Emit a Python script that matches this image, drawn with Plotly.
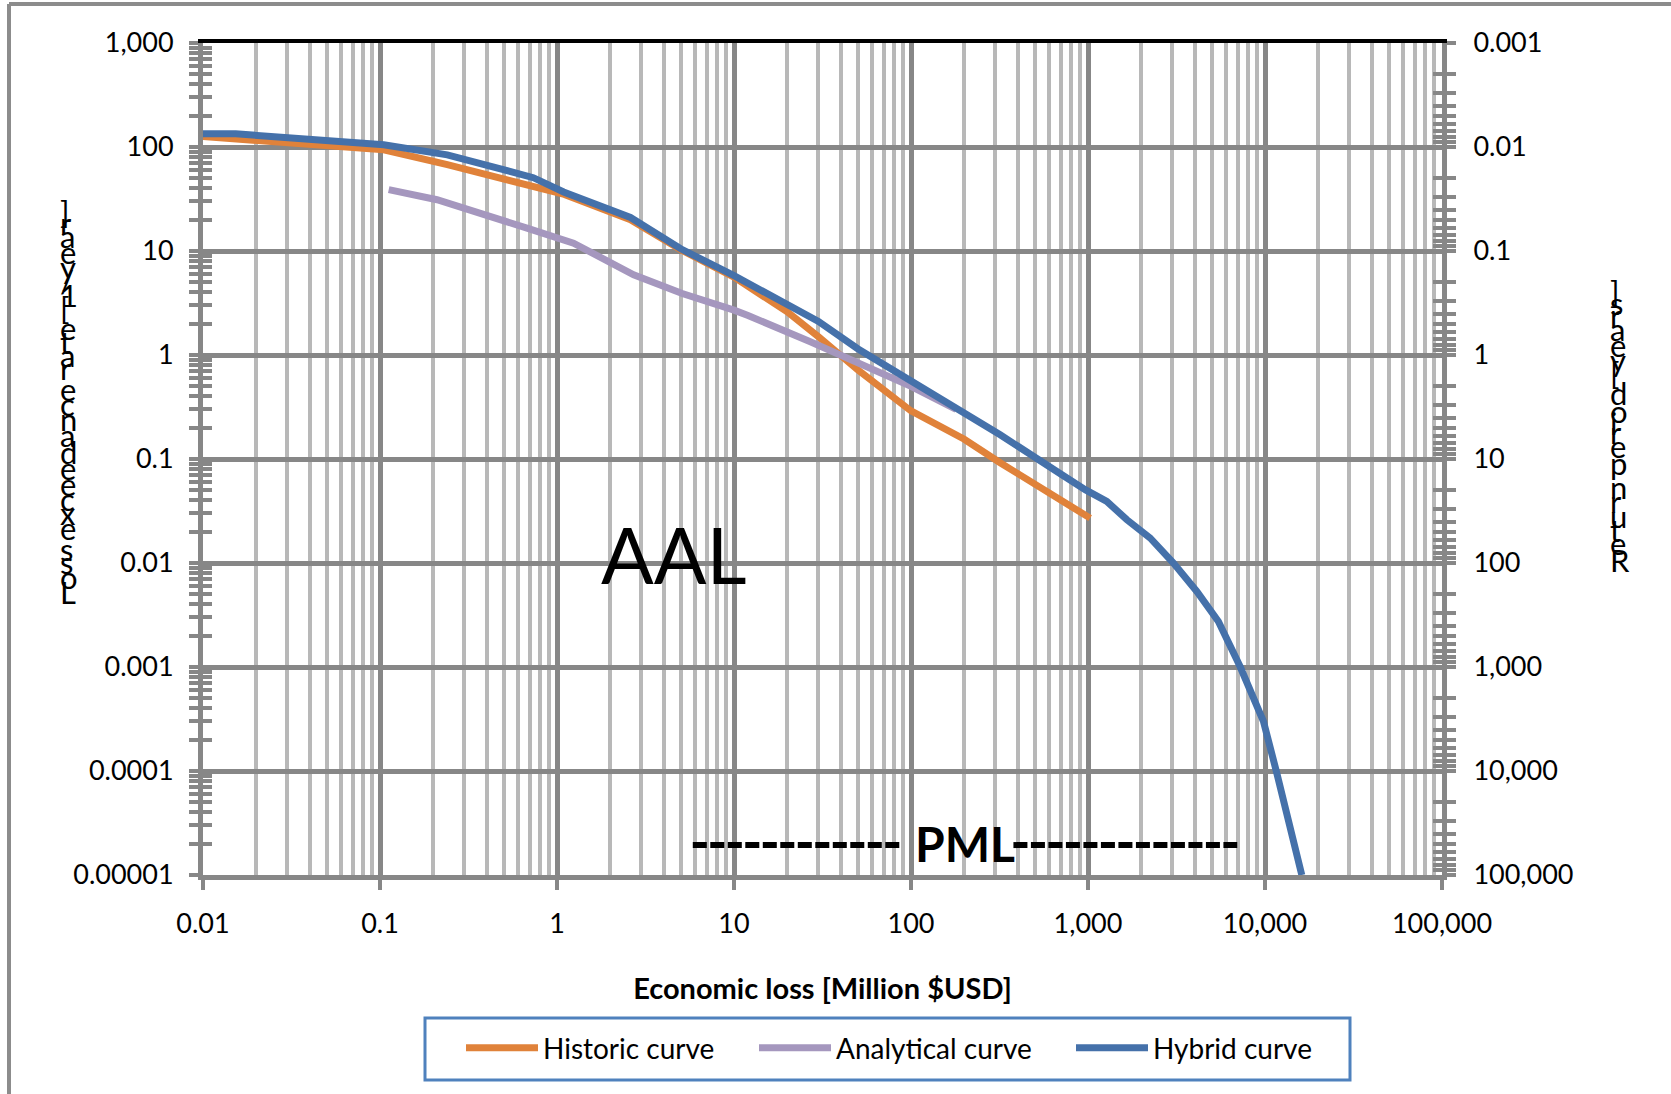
import plotly.graph_objects as go

# ---------------- data ----------------
HIST_X = [0.01, 0.105, 0.24, 0.735, 1.1, 2.6, 5, 10, 20, 30, 50, 100, 200, 319, 500, 1028]
HIST_Y = [126, 94, 67.6, 40.6, 35, 20, 10.3, 5.6, 2.6, 1.5, 0.72, 0.29, 0.155, 0.092, 0.058, 0.027]

ANAL_X = [0.112, 0.21, 0.677, 1.24, 2.71, 5.1, 10, 12, 27, 50, 100, 180]
ANAL_Y = [38.9, 31.1, 16.6, 11.9, 5.9, 3.9, 2.7, 2.4, 1.34, 0.85, 0.5, 0.3]

HYB_X = [0.01, 0.0153, 0.105, 0.24, 0.735, 1.09, 2.6, 3.4, 5, 10, 20, 30, 50, 100, 200, 319,
         712, 964, 1277, 1656, 2244, 3039, 4120, 5455, 7230, 9800, 11650, 13870, 16140]
HYB_Y = [134, 134, 105, 84, 50.7, 37, 21, 16, 10.5, 5.8, 3.1, 2.1, 1.15, 0.56, 0.27, 0.171,
         0.0706, 0.0507, 0.0391, 0.0261, 0.0174, 0.01, 0.00533, 0.00274, 0.00101, 0.0003,
         9.6e-5, 2.73e-5, 1e-5]

SERIES_NAMES = ["Historic curve", "Analytical curve", "Hybrid curve"]

X_TICKS = [0.01, 0.1, 1, 10, 100, 1000, 10000, 100000]
X_TEXT = ["0.01", "0.1", "1", "10", "100", "1,000", "10,000", "100,000"]
RATE_TICKS = [1e-5, 1e-4, 1e-3, 0.01, 0.1, 1, 10, 100, 1000]
RATE_TEXT = ["0.00001", "0.0001", "0.001", "0.01", "0.1", "1", "10", "100", "1,000"]
RP_TICKS = [1e-3, 0.01, 0.1, 1, 10, 100, 1000, 1e4, 1e5]
RP_TEXT = ["0.001", "0.01", "0.1", "1", "10", "100", "1,000", "10,000", "100,000"]
MINOR_DIGITS = [2, 3, 4, 5, 6, 7, 8, 9]

PML_LEFT_X = [5.85, 89.6]
PML_RIGHT_X = [379, 6970]
PML_Y = 1.94e-5

X_TITLE = "Economic loss [Million $USD]"
Y_TITLE = "Loss exceedance rate [1/year]"
Y2_TITLE = "Return period [years]"

# ---------------- styling ----------------
W, H = 1671, 1094
ML, MR, MT, MB = 203, 229, 43, 219
PW, PH = W - ML - MR, H - MT - MB
FONT = "Lato, 'Open Sans', sans-serif"
ORANGE, PURPLE, BLUE = "#E0823A", "#A597BE", "#4571AA"
GRID_MAJ, GRID_MIN, AXC = "#878787", "#B8B8B8", "#878787"


def px_x(px):
    return (px - ML) / PW


def px_y(py):
    return (H - MB - py) / PH


def minor_vals(decades):
    return [d * t for t in decades[:-1] for d in MINOR_DIGITS]


X_MINOR = minor_vals(X_TICKS)
RATE_MINOR = minor_vals(RATE_TICKS)
RP_MINOR = minor_vals(RP_TICKS)

fig = go.Figure()
for xs, ys, name, col in [(HIST_X, HIST_Y, SERIES_NAMES[0], ORANGE),
                          (ANAL_X, ANAL_Y, SERIES_NAMES[1], PURPLE),
                          (HYB_X, HYB_Y, SERIES_NAMES[2], BLUE)]:
    fig.add_trace(go.Scatter(x=xs, y=ys, name=name, mode="lines",
                             line=dict(color=col, width=7)))

for seg in (PML_LEFT_X, PML_RIGHT_X):
    fig.add_trace(go.Scatter(x=seg, y=[PML_Y] * len(seg), mode="lines", showlegend=False,
                             hoverinfo="skip",
                             line=dict(color="black", width=6, dash="14px,3.5px")))

# dummy traces so the extra axes are drawn
fig.add_trace(go.Scatter(x=[None], y=[None], yaxis="y2", showlegend=False, hoverinfo="skip"))
fig.add_trace(go.Scatter(x=[None], y=[None], yaxis="y3", showlegend=False, hoverinfo="skip"))
fig.add_trace(go.Scatter(x=[None], y=[None], yaxis="y4", showlegend=False, hoverinfo="skip"))
fig.add_trace(go.Scatter(x=[None], y=[None], xaxis="x2", showlegend=False, hoverinfo="skip"))

tickfont = dict(family=FONT, size=27, color="black")


def minor_ticks(vals, direction):
    return dict(tickmode="array", tickvals=vals, ticks=direction, ticklen=9, tickwidth=3.5,
                tickcolor=AXC, showgrid=False)


fig.update_layout(
    width=W, height=H,
    margin=dict(l=ML, r=MR, t=MT, b=MB, autoexpand=False),
    paper_bgcolor="white", plot_bgcolor="white",
    hovermode=False,
    font=dict(family=FONT, color="black"),
    xaxis=dict(type="log", range=[-2, 5], tickmode="array", tickvals=X_TICKS, ticktext=X_TEXT,
               ticks="outside", ticklen=10, tickwidth=4, tickcolor=AXC,
               showline=True, linecolor=AXC, linewidth=5,
               showgrid=True, gridcolor=GRID_MAJ, gridwidth=4.5, zeroline=False,
               minor=dict(tickmode="array", tickvals=X_MINOR, showgrid=True, gridcolor=GRID_MIN,
                          gridwidth=3.5, ticks=""),
               tickfont=tickfont, ticklabelstandoff=11,
               title=dict(text="<b>" + X_TITLE + "</b>", standoff=42,
                          font=dict(family=FONT, size=29, color="black"))),
    xaxis2=dict(type="log", range=[-2, 5], overlaying="x", side="top", anchor="y",
                showline=True, linecolor="black", linewidth=4, ticks="", showticklabels=False,
                showgrid=False, zeroline=False),
    yaxis=dict(type="log", range=[-5, 3], tickmode="array", tickvals=RATE_TICKS, ticktext=RATE_TEXT,
               ticks="outside", ticklen=9, tickwidth=3.5, tickcolor=AXC,
               showline=True, linecolor=AXC, linewidth=5,
               showgrid=True, gridcolor=GRID_MAJ, gridwidth=4.5, zeroline=False,
               minor=minor_ticks(RATE_MINOR, "outside"), tickfont=tickfont, ticklabelstandoff=10),
    yaxis3=dict(type="log", range=[-5, 3], overlaying="y", side="left", anchor="x",
                tickmode="array", tickvals=RATE_TICKS, ticks="inside", ticklen=9, tickwidth=3.5,
                tickcolor=AXC, showticklabels=False, showgrid=False, showline=False,
                zeroline=False, minor=minor_ticks(RATE_MINOR, "inside")),
    yaxis2=dict(type="log", range=[5, -3], overlaying="y", side="right", anchor="x",
                tickmode="array", tickvals=RP_TICKS, ticktext=RP_TEXT,
                ticks="outside", ticklen=9, tickwidth=3.5, tickcolor=AXC,
                showline=True, linecolor=AXC, linewidth=5, showgrid=False, zeroline=False,
                minor=minor_ticks(RP_MINOR, "outside"), tickfont=tickfont, ticklabelstandoff=12),
    yaxis4=dict(type="log", range=[5, -3], overlaying="y", side="right", anchor="x",
                tickmode="array", tickvals=RP_TICKS, ticks="inside", ticklen=9, tickwidth=3.5,
                tickcolor=AXC, showticklabels=False, showgrid=False, showline=False,
                zeroline=False, minor=minor_ticks(RP_MINOR, "inside")),
    showlegend=True,
    legend=dict(orientation="h", x=px_x(461), xanchor="left", y=px_y(1048), yanchor="middle",
                bgcolor="rgba(0,0,0,0)", borderwidth=0, itemwidth=72,
                font=dict(family=FONT, size=28, color="black"), traceorder="normal"),
)

LEG_W = [206, 230, 190]
for i, lw in enumerate(LEG_W):
    fig.data[i].legendwidth = lw

# frame and legend box
fig.add_shape(type="line", xref="paper", yref="paper", x0=px_x(9), x1=px_x(1700),
              y0=px_y(4), y1=px_y(4), line=dict(color="#8C8C8C", width=4))
fig.add_shape(type="line", xref="paper", yref="paper", x0=px_x(9), x1=px_x(9),
              y0=px_y(4), y1=px_y(1120), line=dict(color="#8C8C8C", width=4))
fig.add_shape(type="rect", xref="paper", yref="paper", x0=px_x(425), x1=px_x(1350),
              y0=px_y(1018), y1=px_y(1080), line=dict(color="#4F81BD", width=3),
              fillcolor="rgba(0,0,0,0)")

# in-plot labels
fig.add_annotation(text="AAL", xref="paper", yref="paper", x=px_x(674), y=px_y(554),
                   xanchor="center", yanchor="middle", showarrow=False,
                   font=dict(family=FONT, size=78, color="black"))
fig.add_annotation(text="<b>PML</b>", xref="paper", yref="paper", x=px_x(965), y=px_y(843),
                   xanchor="center", yanchor="middle", showarrow=False,
                   font=dict(family=FONT, size=48, color="black"))

# stacked (upright) axis titles, as in the reference
CW = {' ': .226, 'L': .420, 'o': .527, 's': .391, 'e': .498, 'x': .433, 'c': .423, 'd': .525,
      'a': .479, 'n': .525, 'r': .349, 't': .335, '[': .307, '1': .507, '/': .386, 'y': .453,
      ']': .307, 'R': .543, 'u': .525, 'p': .525, 'i': .229}


def stacked(text, x_px, y_bottom, y_top):
    cum, centers = 0.0, []
    for ch in text:
        w = CW.get(ch, .5)
        centers.append(cum + w / 2)
        cum += w
    scale = (y_bottom - y_top) / (centers[-1] - centers[0])
    for ch, c in zip(text, centers):
        if ch == ' ':
            continue
        fig.add_annotation(text=ch, xref="paper", yref="paper", x=px_x(x_px),
                           y=px_y(y_bottom - (c - centers[0]) * scale),
                           xanchor="left", yanchor="middle", showarrow=False,
                           font=dict(family=FONT, size=31, color="black"))


stacked(Y_TITLE, 58, 592, 212)
stacked(Y2_TITLE, 1608, 560, 292)

fig.write_html("out.html")
